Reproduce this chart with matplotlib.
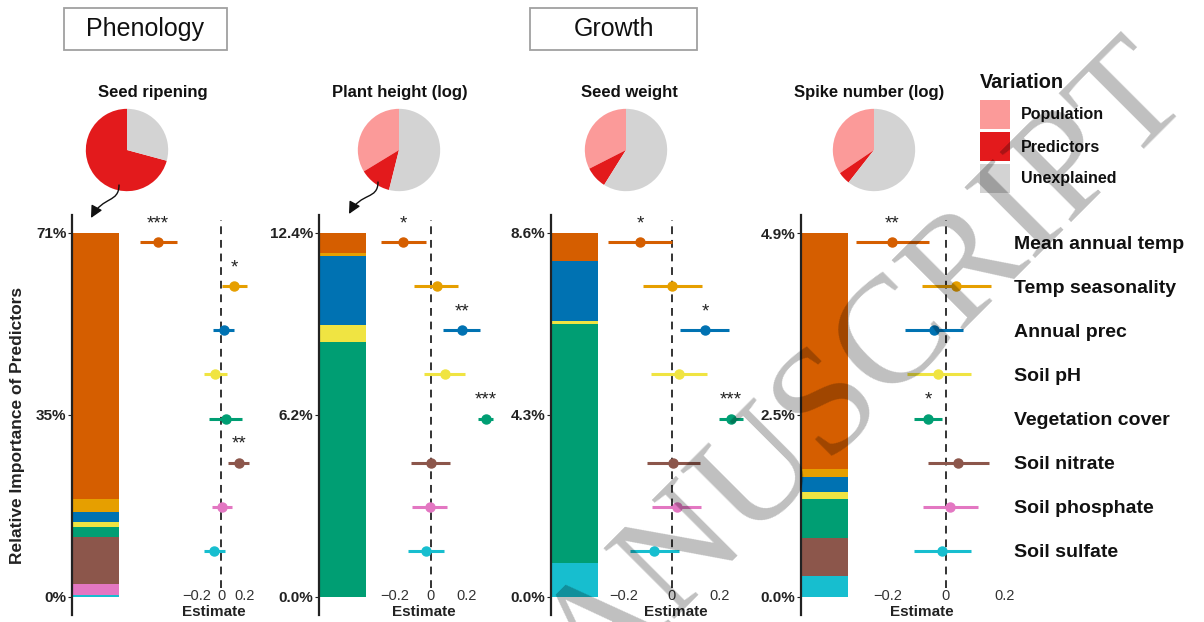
import numpy as np
import matplotlib
matplotlib.use("Agg")
import matplotlib.pyplot as plt
from matplotlib.patches import Rectangle, FancyArrowPatch
from matplotlib.path import Path

plt.rcParams['font.family'] = ['Liberation Sans', 'DejaVu Sans']

# predictors (top to bottom in the forest plots)
predictors = ['Mean annual temp', 'Temp seasonality', 'Annual prec', 'Soil pH',
              'Vegetation cover', 'Soil nitrate', 'Soil phosphate', 'Soil sulfate']
pred_colors = ['#D55E00', '#E69F00', '#0072B2', '#F0E442',
               '#009E73', '#8C564B', '#E377C2', '#17BECF']

traits = ['Seed ripening', 'Plant height (log)', 'Seed weight', 'Spike number (log)']

# relative importance of each predictor (% of variance)
imp_ripening = [51.7, 2.5, 2.0, 1.0, 2.0, 9.0, 2.3, 0.3]
imp_height = [0.68, 0.12, 2.32, 0.58, 8.70, 0.0, 0.0, 0.0]
imp_weight = [0.65, 0.0, 1.44, 0.07, 5.64, 0.0, 0.0, 0.80]
imp_spike = [3.19, 0.11, 0.20, 0.09, 0.53, 0.51, 0.0, 0.29]
tick_fmt = ['{:.0f}%', '{:.1f}%', '{:.1f}%', '{:.1f}%']

# variance partition for the pies
var_labels = ['Population', 'Predictors', 'Unexplained']
var_colors = ['#FB9A99', '#E31A1C', '#D3D3D3']
pop_var = [0.0, 33.7, 32.5, 34.5]
unexpl_var = [29.2, 53.9, 58.9, 60.6]

# standardized estimates with confidence intervals
est_ripening = [-0.525, 0.108, 0.025, -0.050, 0.039, 0.147, 0.006, -0.056]
lo_ripening = [-0.675, 0.008, -0.067, -0.142, -0.100, 0.061, -0.075, -0.142]
hi_ripening = [-0.367, 0.217, 0.108, 0.050, 0.175, 0.236, 0.089, 0.033]
sig_ripening = ['***', '*', '', '', '', '**', '', '']

est_height = [-0.152, 0.033, 0.172, 0.080, 0.306, 0.000, -0.004, -0.026]
lo_height = [-0.278, -0.091, 0.070, -0.035, 0.265, -0.111, -0.102, -0.124]
hi_height = [-0.026, 0.153, 0.274, 0.191, 0.348, 0.107, 0.093, 0.074]
sig_height = ['*', '', '**', '', '***', '', '', '']

est_weight = [-0.131, 0.003, 0.138, 0.030, 0.246, 0.007, 0.021, -0.073]
lo_weight = [-0.262, -0.117, 0.034, -0.086, 0.197, -0.101, -0.080, -0.173]
hi_weight = [0.000, 0.127, 0.239, 0.145, 0.294, 0.117, 0.121, 0.030]
sig_weight = ['*', '', '*', '', '***', '', '', '']

est_spike = [-0.184, 0.034, -0.040, -0.026, -0.061, 0.042, 0.014, -0.013]
lo_spike = [-0.308, -0.083, -0.140, -0.135, -0.108, -0.063, -0.080, -0.108]
hi_spike = [-0.057, 0.153, 0.057, 0.085, -0.015, 0.148, 0.111, 0.085]
sig_spike = ['**', '', '', '', '*', '', '', '']

importance = [imp_ripening, imp_height, imp_weight, imp_spike]
estimates = [est_ripening, est_height, est_weight, est_spike]
lows = [lo_ripening, lo_height, lo_weight, lo_spike]
highs = [hi_ripening, hi_height, hi_weight, hi_spike]
signif = [sig_ripening, sig_height, sig_weight, sig_spike]

# layout in pixels
W, H = 1204, 622
pie_cx = [127, 399, 626, 874]
title_cx = [153, 400, 629, 869]
bar_x = [72, 319, 551, 801]
forest_x = [(130, 270), (365, 500), (600, 750), (850, 1008)]
forest_zero = [221, 430.7, 671.7, 946]
forest_ppu = [120, 180, 241.5, 292]
est_label_cx = [214, 424, 676, 922]


def box(x0, y0, x1, y1):
    return [x0 / W, 1 - y1 / H, (x1 - x0) / W, (y1 - y0) / H]


def fpt(x, y):
    return (x / W, 1 - y / H)


fig = plt.figure(figsize=(12.04, 6.22), dpi=100)
rows = np.arange(len(predictors))
dark = '#222222'

for i in range(4):
    # pie of variance partition
    pax = fig.add_axes(box(pie_cx[i] - 42, 108, pie_cx[i] + 42, 192))
    pred_total = sum(importance[i])
    pax.pie([pop_var[i], pred_total, unexpl_var[i]], colors=var_colors,
            startangle=90, counterclock=True, wedgeprops=dict(linewidth=0))
    pax.set_xlim(-1.02, 1.02)
    pax.set_ylim(-1.02, 1.02)
    fig.text(title_cx[i] / W, 1 - 92 / H, traits[i], ha='center', va='center',
             fontsize=12, fontweight='bold', color='#111111')

    # stacked relative importance bar
    bax = fig.add_axes(box(bar_x[i], 215, bar_x[i] + 55, 615))
    bax.patch.set_alpha(0)
    imp = importance[i]
    tot = sum(imp)
    bottom = 0
    for j in reversed(range(len(imp))):
        bax.bar(0, imp[j], bottom=bottom, width=0.85, align='edge',
                color=pred_colors[j], linewidth=0)
        bottom += imp[j]
    m = tot * 18 / 364
    bax.set_ylim(-m, tot + m)
    bax.set_xlim(-0.02, 1)
    ticks = [0, tot / 2, tot]
    bax.set_yticks(ticks)
    bax.set_yticklabels([tick_fmt[i].format(t) for t in ticks],
                        fontweight='bold', fontsize=11, color=dark)
    bax.set_xticks([])
    for s in ['top', 'right', 'bottom']:
        bax.spines[s].set_visible(False)
    bax.spines['left'].set_linewidth(1.6)
    bax.spines['left'].set_color(dark)
    bax.tick_params(axis='y', length=3, width=0.8, pad=1, colors=dark)

    # forest plot of estimates
    x0, x1 = forest_x[i]
    fax = fig.add_axes(box(x0, 220, x1, 588))
    fax.patch.set_alpha(0)
    fax.set_xlim((x0 - forest_zero[i]) / forest_ppu[i],
                 (x1 - forest_zero[i]) / forest_ppu[i])
    fax.set_ylim(7.84, -0.5)
    fax.axvline(0, ls=(0, (4, 3)), color='#333333', lw=1.4, zorder=1)
    for j in rows:
        fax.hlines(j, lows[i][j], highs[i][j], color=pred_colors[j], lw=2.2,
                   zorder=2, clip_on=False)
        fax.plot(estimates[i][j], j, 'o', ms=6.5, color=pred_colors[j],
                 zorder=3, clip_on=False)
        if signif[i][j]:
            fax.text(estimates[i][j], j - 0.42, signif[i][j], ha='center',
                     va='center', fontsize=13.5, color='#222222')
    fax.set_xticks([-0.2, 0, 0.2])
    fax.set_xticklabels(['\u22120.2', '0', '0.2'], fontsize=10.5, color='#333333')
    fax.tick_params(axis='x', length=0, pad=1)
    for s in fax.spines.values():
        s.set_visible(False)
    fax.set_xlabel('Estimate', fontsize=11, fontweight='bold', color=dark)
    fax.xaxis.set_label_coords((est_label_cx[i] - x0) / (x1 - x0), -0.046)
    if i == 3:
        fax.set_yticks(rows)
        fax.set_yticklabels(predictors, fontsize=14, fontweight='bold', color='#111111')
        fax.yaxis.tick_right()
        fax.tick_params(axis='y', length=0, pad=4)
    else:
        fax.set_yticks([])

fig.text(18 / W, 1 - 425 / H, 'Relative Importance of Predictors', rotation=90,
         ha='center', va='center', fontsize=12.5, fontweight='bold', color=dark)

# group headers
for label, (hx0, hx1) in [('Phenology', (64, 227)), ('Growth', (530, 697))]:
    fig.add_artist(Rectangle(fpt(hx0, 50), (hx1 - hx0) / W, 42 / H,
                             transform=fig.transFigure, fill=False,
                             edgecolor='#a0a0a0', lw=1.3))
    fig.text((hx0 + hx1) / 2 / W, 1 - 29 / H, label, ha='center', va='center',
             fontsize=18, color='#111111')

# curved arrows from the predictor slice to the bars
for (sx, sy), (ex, ey) in [((119, 185), (91, 218)), ((378, 182), (349, 214))]:
    verts = [fpt(sx, sy), fpt(sx, sy + 18), fpt(ex + 12, ey - 22), fpt(ex, ey)]
    path = Path(verts, [Path.MOVETO, Path.CURVE4, Path.CURVE4, Path.CURVE4])
    fig.add_artist(FancyArrowPatch(path=path, arrowstyle='-|>', mutation_scale=18,
                                   color='#111111', lw=1.0,
                                   transform=fig.transFigure))

# variation legend
fig.text(980 / W, 1 - 83 / H, 'Variation', ha='left', va='center',
         fontsize=14.3, fontweight='bold', color='#111111')
key_top = [100, 132, 164]
for k, (lab, col) in enumerate(zip(var_labels, var_colors)):
    fig.add_artist(Rectangle(fpt(980, key_top[k] + 29), 30 / W, 29 / H,
                             transform=fig.transFigure, facecolor=col,
                             edgecolor='none'))
    fig.text(1021 / W, 1 - (key_top[k] + 15) / H, lab, ha='left', va='center',
             fontsize=11.5, fontweight='bold', color='#111111')

# watermark
fig.text(868 / W, 1 - 372 / H, 'ANUSCRIPT', rotation=45, rotation_mode='anchor',
         ha='center', va='center', fontsize=110, family='Liberation Serif',
         color='black', alpha=0.25, zorder=10)

fig.savefig('out.png', dpi=100)
